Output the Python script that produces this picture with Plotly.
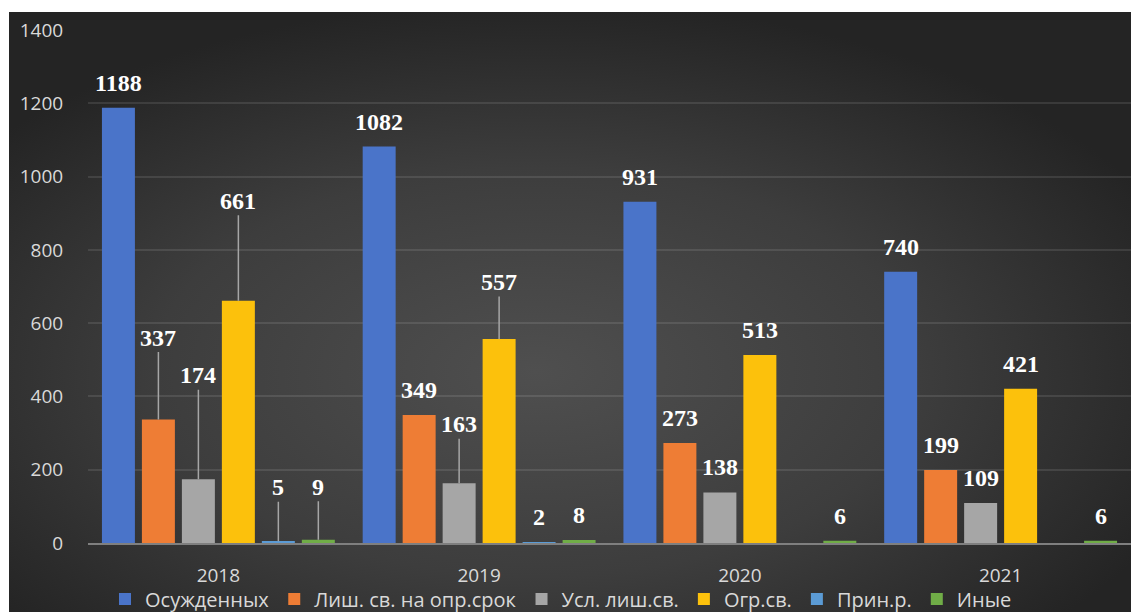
import base64
import plotly.graph_objects as go

# ---- data -------------------------------------------------------------
years = ["2018", "2019", "2020", "2021"]
series_names = ["Осужденных", "Лиш. св. на опр.срок", "Усл. лиш.св.",
                "Огр.св.", "Прин.р.", "Иные"]
convicted = [1188, 1082, 931, 740]
imprisonment = [337, 349, 273, 199]
suspended = [174, 163, 138, 109]
restriction = [661, 557, 513, 421]
compulsory_work = [5, 2, 0, 0]
other = [9, 8, 6, 6]
y_ticks = [0, 200, 400, 600, 800, 1000, 1200, 1400]

series_values = [convicted, imprisonment, suspended, restriction,
                 compulsory_work, other]

# ---- styling ----------------------------------------------------------
colors = ["#4a74c9", "#ee7d35", "#a6a6a6", "#fcc10c", "#5b9bd5", "#70ad47"]
label_font = dict(family="Liberation Serif", size=24, color="#ffffff")
tick_font = dict(family="Open Sans", size=19, color="#d9d9d9")
legend_font = dict(family="Open Sans", size=20, color="#d9d9d9")

W, H = 1131, 612
L, R, T, B = 88, 0, 30, 69
BARGAP = 0.08
n_series = len(series_values)
slot = (1 - BARGAP) / n_series

# labels lifted above their bars with a leader line: (series, year) -> px
leader_offsets = {
    (1, 0): 82, (2, 0): 104, (3, 0): 100, (4, 0): 54, (5, 0): 53,
    (2, 1): 59, (3, 1): 57,
}

fig = go.Figure()
for name, vals, col in zip(series_names, series_values, colors):
    fig.add_trace(go.Bar(name=name, x=years, y=vals, marker_color=col,
                         marker_line_width=0))

annotations = []
for s, vals in enumerate(series_values):
    for g, v in enumerate(vals):
        if v == 0:
            continue
        xpos = g + (s - (n_series - 1) / 2) * slot
        if (s, g) in leader_offsets:
            annotations.append(dict(
                x=xpos, y=v, xref="x", yref="y", text=f"<b>{v}</b>",
                font=label_font, showarrow=True, arrowhead=0, ax=0,
                ay=-leader_offsets[(s, g)], arrowwidth=1.5,
                arrowcolor="#a6a6a6", standoff=0))
        else:
            annotations.append(dict(
                x=xpos, y=v, xref="x", yref="y", text=f"<b>{v}</b>",
                font=label_font, showarrow=False, yanchor="middle",
                yshift=25))

# dark panel with a soft radial light behind the chart
pw, ph = W - 9, H - 12
svg = (f'<svg xmlns="http://www.w3.org/2000/svg" width="{pw}" height="{ph}">'
       '<defs><radialGradient id="g" cx="0.47" cy="0.6" r="0.62">'
       '<stop offset="0" stop-color="#4f4f4f"/>'
       '<stop offset="0.55" stop-color="#3d3d3d"/>'
       '<stop offset="1" stop-color="#242424"/>'
       '</radialGradient></defs>'
       f'<rect width="{pw}" height="{ph}" fill="url(#g)"/></svg>')
bg_src = "data:image/svg+xml;base64," + base64.b64encode(svg.encode()).decode()

plot_w = W - L - R
plot_h = H - T - B

fig.update_layout(
    width=W, height=H,
    margin=dict(l=L, r=R, t=T, b=B, autoexpand=False),
    paper_bgcolor="#ffffff",
    plot_bgcolor="rgba(0,0,0,0)",
    barmode="group", bargap=BARGAP, bargroupgap=0.175,
    showlegend=True,
    legend=dict(orientation="h", x=(561 - L) / plot_w, xanchor="center",
                y=(H - B - 599) / plot_h, yanchor="middle",
                font=legend_font, bgcolor="rgba(0,0,0,0)",
                itemwidth=30, tracegroupgap=0),
    images=[dict(source=bg_src, xref="paper", yref="paper",
                 x=(9 - L) / plot_w, y=(H - B - 12) / plot_h,
                 sizex=pw / plot_w, sizey=ph / plot_h,
                 xanchor="left", yanchor="top", sizing="stretch",
                 layer="below")],
    annotations=annotations,
)
fig.update_xaxes(type="category", showgrid=False, showline=True,
                 linecolor="#7f7f7f", linewidth=2, ticks="outside",
                 ticklen=14, tickcolor="rgba(0,0,0,0)", tickfont=tick_font,
                 fixedrange=True)
fig.update_yaxes(range=[0, 1400], tickvals=y_ticks, showgrid=True,
                 gridcolor="rgba(255,255,255,0.1)", gridwidth=1.5,
                 zeroline=False, showline=False, ticks="outside",
                 ticklen=20, tickcolor="rgba(0,0,0,0)", tickfont=tick_font,
                 fixedrange=True)

fig.write_html("out.html")
